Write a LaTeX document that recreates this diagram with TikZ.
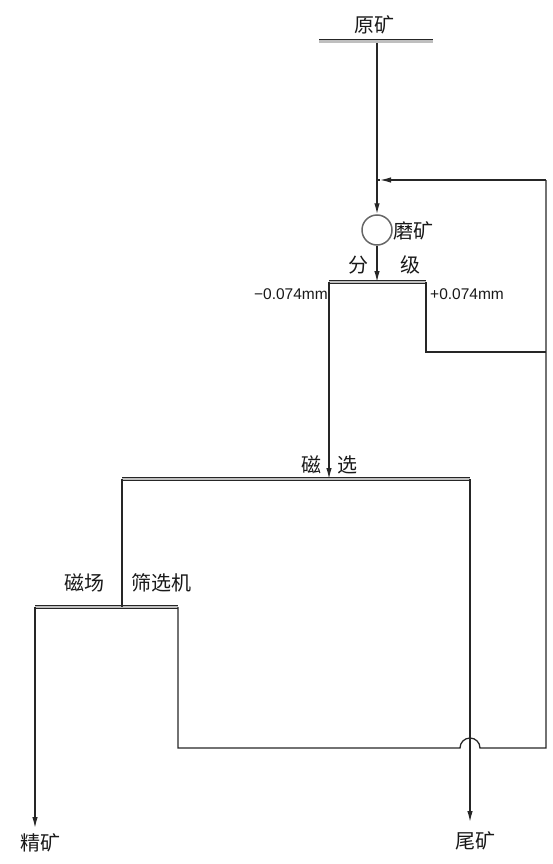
\documentclass[tikz,border=0pt]{standalone}
\usepackage{fontspec}
\newfontfamily\cjk{Noto Sans CJK SC}
\newfontfamily\numf{Liberation Sans}
\usetikzlibrary{arrows.meta}
\begin{document}
\begin{tikzpicture}[x=1pt,y=-1pt,
  flow/.style={draw=black!85, line width=1.3pt},
  arr/.style={flow, -{Latex[length=11pt,width=5.5pt]}},
  bar/.style={draw=black!85, line width=0.9pt, double=black!25, double distance=2.2pt},
  cn/.style={font=\cjk\fontsize{20}{20}\selectfont, inner sep=0pt, text=black!90},
  num/.style={font=\numf\fontsize{15.5}{15.5}\selectfont, inner sep=0pt, text=black!90}]
\useasboundingbox (0,0) rectangle (553,864);
% bars
\coordinate (ykL) at (319,41.5); \coordinate (ykR) at (433,41.5); \coordinate (ykM) at (377,43);
\draw[bar] (ykL) -- (ykR);
\coordinate (fjL) at (329,282); \coordinate (fjR) at (426,282); \coordinate (fjM) at (377,282);
\draw[bar] (fjL) -- (fjR);
\coordinate (cxL) at (122,479); \coordinate (cxR) at (470,479); \coordinate (cxM) at (329,479);
\draw[bar] (cxL) -- (cxR);
\coordinate (csL) at (35,607); \coordinate (csR) at (178,607); \coordinate (csM) at (122,607);
\draw[bar] (csL) -- (csR);
% labels
\node[cn] (tyk) at (374,25) {原矿};
\node[circle, draw=black!60, line width=1.5pt, minimum size=30pt, inner sep=0pt] (mill) at (377,230) {};
\node[cn, anchor=west] (tmk) at (393,231) {磨矿};
\node[cn] (tfen) at (358,265) {分};
\node[cn] (tji) at (410,265) {级};
\node[num, anchor=east] (tminus) at (328,294) {−0.074mm};
\node[num, anchor=west] (tplus) at (430,294) {+0.074mm};
\node[cn] (tci) at (311,465) {磁};
\node[cn] (txuan) at (347,465) {选};
\node[cn] (tcc) at (84,583) {磁场};
\node[cn] (tsx) at (161,583) {筛选机};
\node[cn] (tjk) at (40,843) {精矿};
\node[cn] (twk) at (475,841) {尾矿};
% junction / corner points
\coordinate (j1) at (377,180);
\coordinate (fb) at (546,180);
\coordinate (fbEnd) at (380,180);
\coordinate (p1) at (426,352);
\coordinate (p2) at (546,352);
\coordinate (b1) at (178,748);
\coordinate (hopA) at (460,748);
\coordinate (b2) at (546,748);
\coordinate (jkEnd) at (35,828);
\coordinate (wkEnd) at (470,822);
% connectors
\draw[arr] (ykM) -- (mill.north);
\draw[arr] (fb) -- (fbEnd);
\draw[flow] (fbEnd) -- (j1);
\draw[arr] (mill.south) -- (fjM);
\draw[arr] (fjL) -- (cxM |- cxL);
\draw[flow] (fjR) -- (p1) -- (p2);
\draw[flow] (csR) -- (b1) -- (hopA) arc[start angle=180, end angle=360, radius=10] -- (b2) -- (fb);
\draw[flow] (cxL) -- (csM);
\draw[arr] (cxR) -- (wkEnd);
\draw[arr] (csL) -- (jkEnd);
\end{tikzpicture}
\end{document}
